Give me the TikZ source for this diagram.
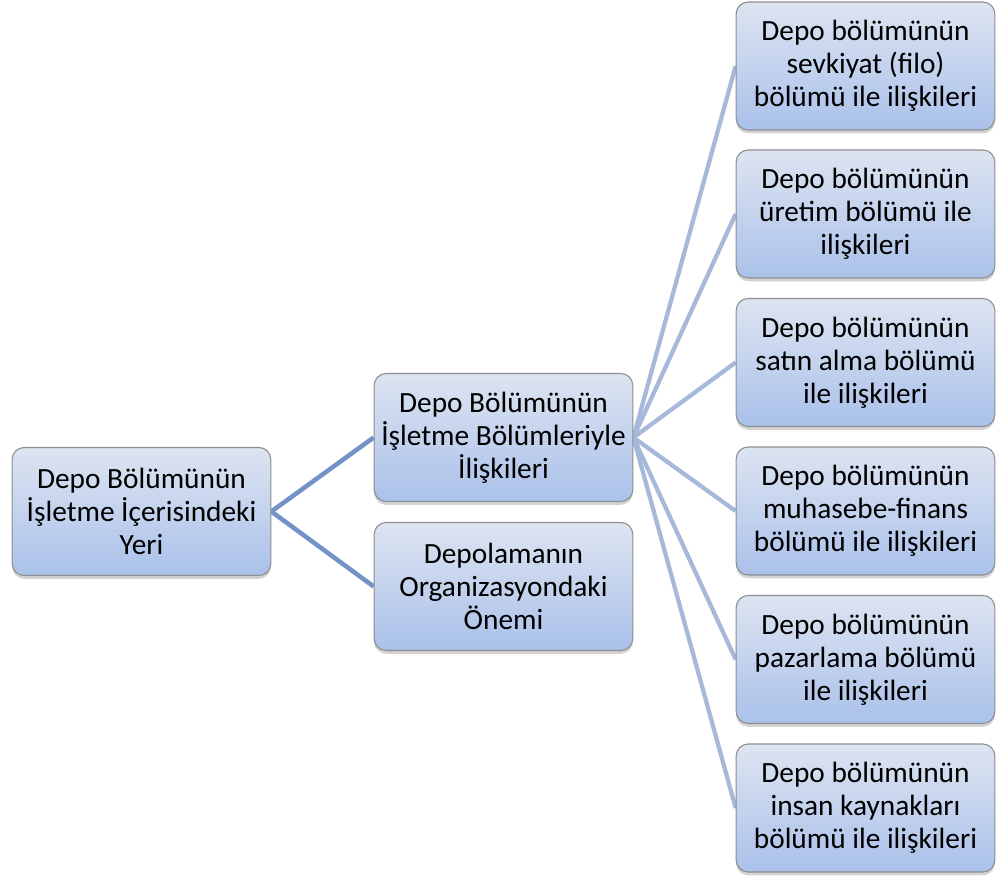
\documentclass[tikz,border=0pt]{standalone}
\usepackage{fontspec}
\setmainfont{Carlito}
\usepackage{tikz}
\usetikzlibrary{shadows,backgrounds}

\definecolor{boxtop}{HTML}{DDE4F1}
\definecolor{boxbot}{HTML}{AAC1EA}
\definecolor{boxline}{HTML}{8E8E8E}
\definecolor{rootlink}{HTML}{7393C8}
\definecolor{sublink}{HTML}{A6B9DA}

\begin{document}
\begin{tikzpicture}[x=0.75pt, y=-0.75pt,
  topic/.style={rectangle, rounded corners=9pt, draw=boxline, line width=0.8pt,
    top color=boxtop, bottom color=boxbot, align=center,
    minimum width=194pt, minimum height=96pt, inner sep=2pt,
    font=\fontsize{22pt}{24.8pt}\selectfont,
    drop shadow={opacity=0.35, shadow xshift=0pt, shadow yshift=-2.5pt}},
  rootline/.style={rootlink, line width=3.4pt},
  subline/.style={sublink, line width=3.2pt}]
\useasboundingbox (0,0) rectangle (1003,877);

% Root
\node[topic] (root) at (141.5,511.5) {Depo Bölümünün\\İşletme İçerisindeki\\Yeri};

% Second level
\node[topic] (rel) at (503.5,437.5) {Depo Bölümünün\\İşletme Bölümleriyle\\İlişkileri};
\node[topic] (imp) at (503.5,586.5) {Depolamanın\\Organizasyondaki\\Önemi};

% Departments
\node[topic] (ship) at (865.5,66) {Depo bölümünün\\sevkiyat (filo)\\bölümü ile ilişkileri};
\node[topic] (prod) at (865.5,214) {Depo bölümünün\\üretim bölümü ile\\ilişkileri};
\node[topic] (buy) at (865.5,362.5) {Depo bölümünün\\satın alma bölümü\\ile ilişkileri};
\node[topic] (acc) at (865.5,511) {Depo bölümünün\\muhasebe-finans\\bölümü ile ilişkileri};
\node[topic] (mkt) at (865.5,659.5) {Depo bölümünün\\pazarlama bölümü\\ile ilişkileri};
\node[topic] (hr) at (865.5,808) {Depo bölümünün\\insan kaynakları\\bölümü ile ilişkileri};

% Links
\begin{scope}[on background layer]
\draw[rootline] (root.east) -- (rel.west);
\draw[rootline] (root.east) -- (imp.west);
\foreach \dept in {ship,prod,buy,acc,mkt,hr} {
  \draw[subline] (rel.east) -- (\dept.west);
}
\end{scope}
\end{tikzpicture}
\end{document}
